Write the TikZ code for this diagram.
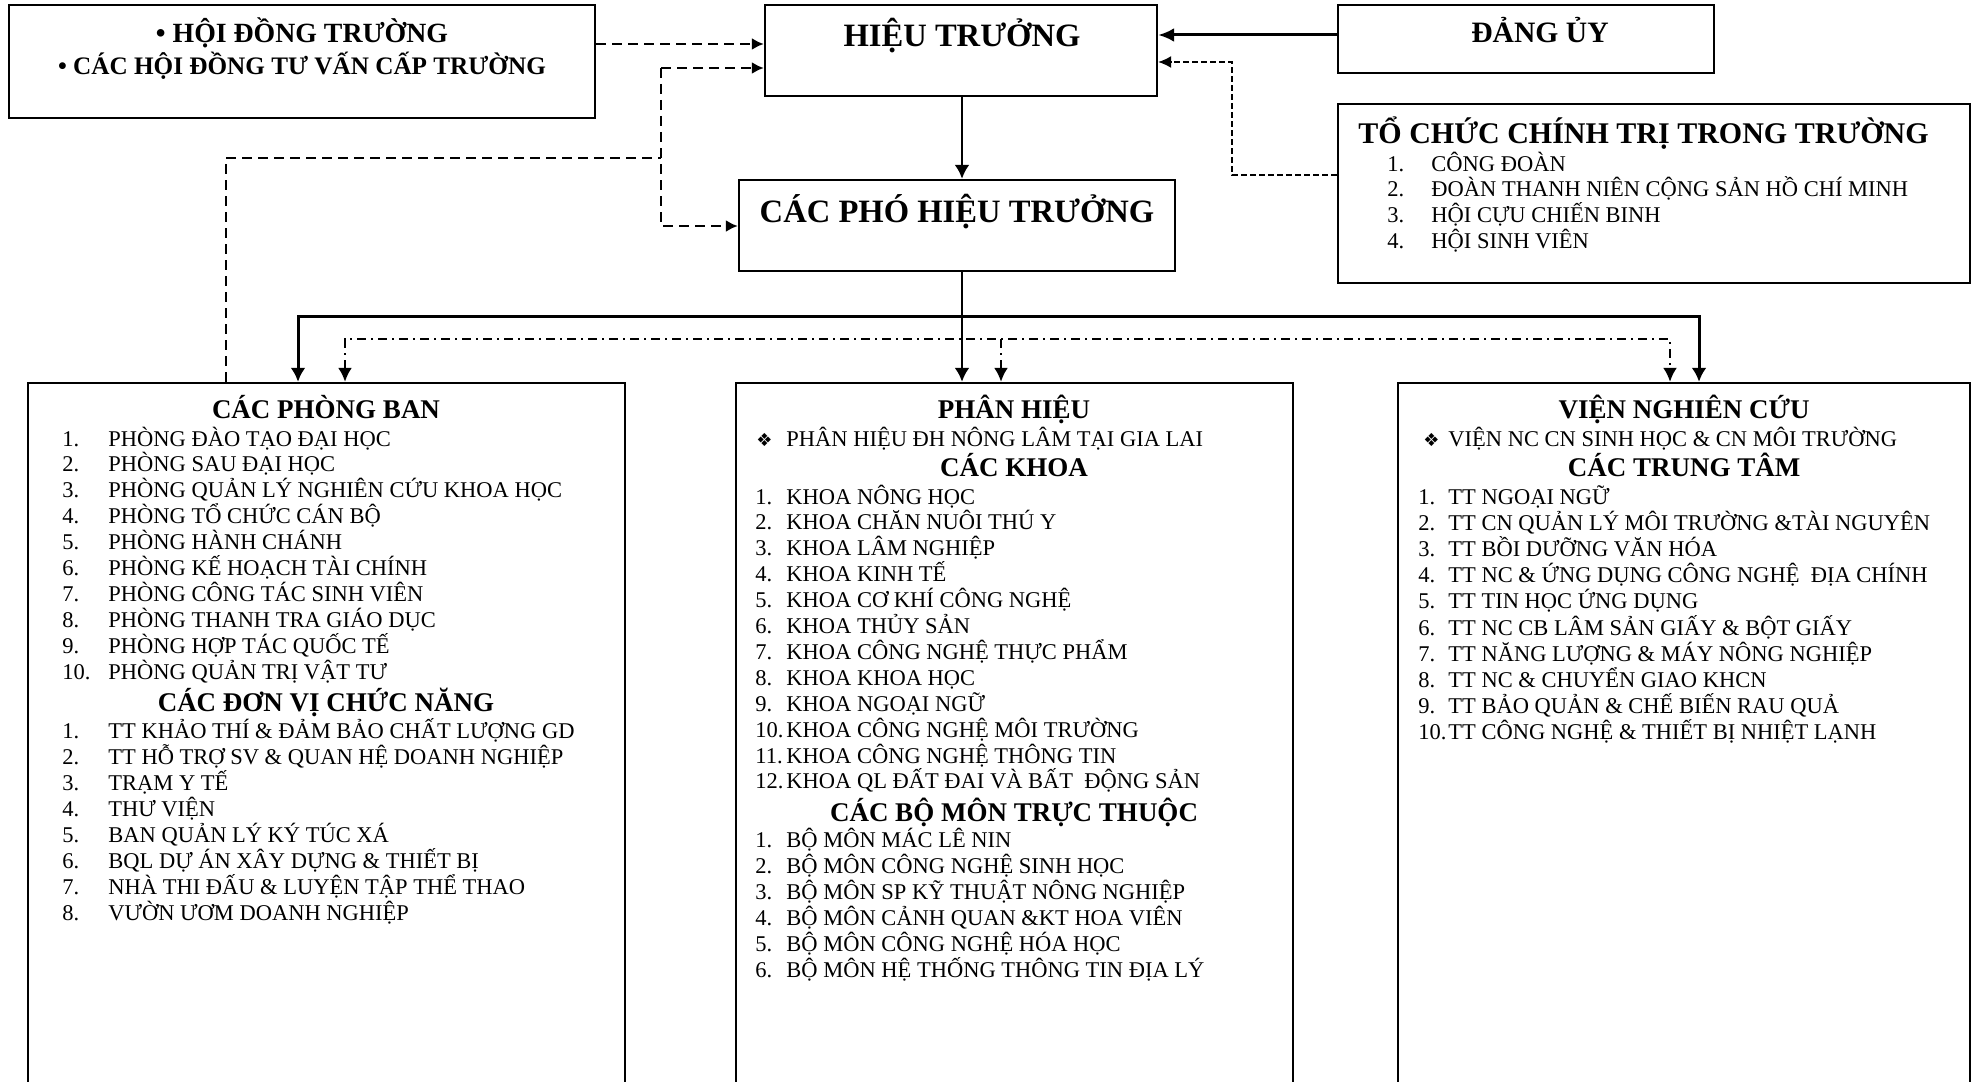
\documentclass[tikz,border=0pt]{standalone}
\usepackage{fontspec}
\setmainfont{Liberation Serif}
\newfontfamily\symfont{DejaVu Sans}
\usetikzlibrary{arrows.meta,fit}
\tikzset{
  box/.style={draw,line width=1.2pt,inner sep=0pt},
  ttl/.style={anchor=base,inner sep=0pt,font=\bfseries\fontsize{13.5}{16}\selectfont},
  bigttl/.style={anchor=base,inner sep=0pt,font=\bfseries\fontsize{16.3}{19}\selectfont},
  item/.style={anchor=base west,inner sep=0pt,font=\fontsize{11.25}{13}\selectfont},
  link/.style={line width=1.5pt,-{Latex[length=7pt,width=7.5pt]}},
  dlink/.style={line width=1.1pt,dash pattern=on 5pt off 3pt,-{Latex[length=6pt,width=6pt]}},
  tlink/.style={line width=0.7pt,dash pattern=on 3pt off 1.5pt,-{Latex[length=6.5pt,width=6pt]}},
  dd/.style={line width=1.1pt,dash pattern=on 4.5pt off 2.5pt on 1pt off 2.5pt}
}
\newcommand*{\LineSkip}{25.9}
\begin{document}
\begin{tikzpicture}[x=0.5pt,y=-0.5pt]
\useasboundingbox (0,0) rectangle (1974,1081);
\clip (0,0) rectangle (1974,1081);

% boxes
\node[box,fit={(9,5) (595,118)}] (hdt) {};
\node[box,fit={(765,5) (1157,96)}] (ht) {};
\node[box,fit={(1338,5) (1714,73)}] (du) {};
\node[box,fit={(1338,104) (1970,283)}] (tc) {};
\node[box,fit={(739,180) (1175,271)}] (cph) {};
\node[box,fit={(28,383) (625,1100)}] (pb) {};
\node[box,fit={(736,383) (1293,1100)}] (ph) {};
\node[box,fit={(1398,383) (1970,1100)}] (vn) {};

% top texts
\node[ttl,font=\bfseries\fontsize{13.9}{16}\selectfont] (hdt-a) at (302,43) {• HỘI ĐỒNG TRƯỜNG};
\node[ttl,font=\bfseries\fontsize{12.6}{15}\selectfont] (hdt-b) at (302,75) {• CÁC HỘI ĐỒNG TƯ VẤN CẤP TRƯỜNG};
\node[bigttl] (ht-t) at (962,47) {HIỆU TRƯỞNG};
\node[ttl,font=\bfseries\fontsize{14.8}{17}\selectfont] (du-t) at (1540,43) {ĐẢNG ỦY};
\node[bigttl] (cph-t) at (957,222) {CÁC PHÓ HIỆU TRƯỞNG};
\node[ttl,anchor=base west,font=\bfseries\fontsize{15}{18}\selectfont] (tc-t) at (1358,143) {TỔ CHỨC CHÍNH TRỊ TRONG TRƯỜNG};
\foreach \t [count=\i] in {CÔNG ĐOÀN, ĐOÀN THANH NIÊN CỘNG SẢN HỒ CHÍ MINH, HỘI CỰU CHIẾN BINH, HỘI SINH VIÊN} {%
    \node[item] (tc-n\i) at (1387,{171+25.9*(\i-1)}) {\i.};
    \node[item] (tc-\i) at (1431,{171+25.9*(\i-1)}) {\t};
}

% column 1
\node[ttl] (pb-t) at (326,418) {CÁC PHÒNG BAN};
\foreach \t [count=\i] in {PHÒNG ĐÀO TẠO ĐẠI HỌC, PHÒNG SAU ĐẠI HỌC, PHÒNG QUẢN LÝ NGHIÊN CỨU KHOA HỌC, PHÒNG TỔ CHỨC CÁN BỘ, PHÒNG HÀNH CHÁNH, PHÒNG KẾ HOẠCH TÀI CHÍNH, PHÒNG CÔNG TÁC SINH VIÊN, PHÒNG THANH TRA GIÁO DỤC, PHÒNG HỢP TÁC QUỐC TẾ, PHÒNG QUẢN TRỊ VẬT TƯ} {%
    \node[item] (pb-n\i) at (62,{446+\LineSkip*(\i-1)}) {\i.};
    \node[item] (pb-\i) at (108,{446+\LineSkip*(\i-1)}) {\t};
}
\node[ttl] (cn-t) at (326,711) {CÁC ĐƠN VỊ CHỨC NĂNG};
\foreach \t [count=\i] in {TT KHẢO THÍ \& ĐẢM BẢO CHẤT LƯỢNG GD, TT HỖ TRỢ SV \& QUAN HỆ DOANH NGHIỆP, TRẠM Y TẾ, THƯ VIỆN, BAN QUẢN LÝ KÝ TÚC XÁ, BQL DỰ ÁN XÂY DỰNG \& THIẾT BỊ, NHÀ THI ĐẤU \& LUYỆN TẬP THỂ THAO, VƯỜN ƯƠM DOANH NGHIỆP} {%
    \node[item] (cn-n\i) at (62,{738+26.1*(\i-1)}) {\i.};
    \node[item] (cn-\i) at (108,{738+26.1*(\i-1)}) {\t};
}

% column 2
\node[ttl] (ph-t) at (1014,418) {PHÂN HIỆU};
\node[item,font=\symfont\fontsize{9}{11}\selectfont] (ph-s) at (756,446) {❖};
\node[item] (ph-0) at (786,446) {PHÂN HIỆU ĐH NÔNG LÂM TẠI GIA LAI};
\node[ttl] (kh-t) at (1014,476) {CÁC KHOA};
\foreach \t [count=\i] in {KHOA NÔNG HỌC, KHOA CHĂN NUÔI THÚ Y, KHOA LÂM NGHIỆP, KHOA KINH TẾ, KHOA CƠ KHÍ CÔNG NGHỆ, KHOA THỦY SẢN, KHOA CÔNG NGHỆ THỰC PHẨM, KHOA KHOA HỌC, KHOA NGOẠI NGỮ, KHOA CÔNG NGHỆ MÔI TRƯỜNG, KHOA CÔNG NGHỆ THÔNG TIN, KHOA QL ĐẤT ĐAI VÀ BẤT\ \ ĐỘNG SẢN} {%
    \node[item] (kh-n\i) at (755,{504+\LineSkip*(\i-1)}) {\i.};
    \node[item] (kh-\i) at (786,{504+\LineSkip*(\i-1)}) {\t};
}
\node[ttl] (bm-t) at (1014,821) {CÁC BỘ MÔN TRỰC THUỘC};
\foreach \t [count=\i] in {BỘ MÔN MÁC LÊ NIN, BỘ MÔN CÔNG NGHỆ SINH HỌC, BỘ MÔN SP KỸ THUẬT NÔNG NGHIỆP, BỘ MÔN CẢNH QUAN \&KT HOA VIÊN, BỘ MÔN CÔNG NGHỆ HÓA HỌC, BỘ MÔN HỆ THỐNG THÔNG TIN ĐỊA LÝ} {%
    \node[item] (bm-n\i) at (755,{847+26*(\i-1)}) {\i.};
    \node[item] (bm-\i) at (786,{847+26*(\i-1)}) {\t};
}

% column 3
\node[ttl] (vn-t) at (1684,418) {VIỆN NGHIÊN CỨU};
\node[item,font=\symfont\fontsize{9}{11}\selectfont] (vn-s) at (1423,446) {❖};
\node[item] (vn-0) at (1448,446) {VIỆN NC CN SINH HỌC \& CN MÔI TRƯỜNG};
\node[ttl] (tt-t) at (1684,476) {CÁC TRUNG TÂM};
\foreach \t [count=\i] in {TT NGOẠI NGỮ, TT CN QUẢN LÝ MÔI TRƯỜNG \&TÀI NGUYÊN, TT BỒI DƯỠNG VĂN HÓA, TT NC \& ỨNG DỤNG CÔNG NGHỆ\ \ ĐỊA CHÍNH, TT TIN HỌC ỨNG DỤNG, TT NC CB LÂM SẢN GIẤY \& BỘT GIẤY, TT NĂNG LƯỢNG \& MÁY NÔNG NGHIỆP, TT NC \& CHUYỂN GIAO KHCN, TT BẢO QUẢN \& CHẾ BIẾN RAU QUẢ, TT CÔNG NGHỆ \& THIẾT BỊ NHIỆT LẠNH} {%
    \node[item] (tt-n\i) at (1418,{504+26.2*(\i-1)}) {\i.};
    \node[item] (tt-\i) at (1448,{504+26.2*(\i-1)}) {\t};
}

% links at the top
\draw[dlink] (hdt.east |- 0,44) -- (ht.west |- 0,44);
\draw[link,-{Latex[length=8pt,width=7pt]}] (du.west |- 0,35) -- (ht.east |- 0,35);
\draw[tlink] (tc.west |- 0,175) -- (1232,175) -- (1232,62) -- (ht.east |- 0,62);
\draw[link,line width=1.3pt] (ht.south -| 962,0) -- (cph.north -| 962,0);

% dashed line from the offices
\coordinate (jT) at (661,68);
\coordinate (jB) at (661,226);
\draw[dlink,-] (pb.north -| 226,0) -- (226,158) -- (661,158);
\draw[dlink] (jT) -- (jT -| ht.west);
\draw[dlink] (jT) -- (jB) -- (jB -| cph.west);

% bus lines
\coordinate (busL) at (298,316);
\coordinate (busR) at (1699,316);
\draw[link,{Latex[length=7pt,width=7.5pt]}-{Latex[length=7pt,width=7.5pt]}] (busL |- pb.north) -- (busL) -- (busR) -- (busR |- vn.north);
\draw[link,line width=1.3pt] (cph.south -| 962,0) -- (ph.north -| 962,0);% to phan hieu
\coordinate (ddL) at (345,339);
\coordinate (ddM) at (1001,339);
\coordinate (ddR) at (1670,339);
\draw[dd,{Latex[length=7pt,width=7pt]}-{Latex[length=7pt,width=7pt]}] (ddL |- pb.north) -- (ddL) -- (ddR) -- (ddR |- vn.north);
\draw[dd,-{Latex[length=7pt,width=7pt]}] (ddM) -- (ddM |- ph.north);

\end{tikzpicture}
\end{document}
